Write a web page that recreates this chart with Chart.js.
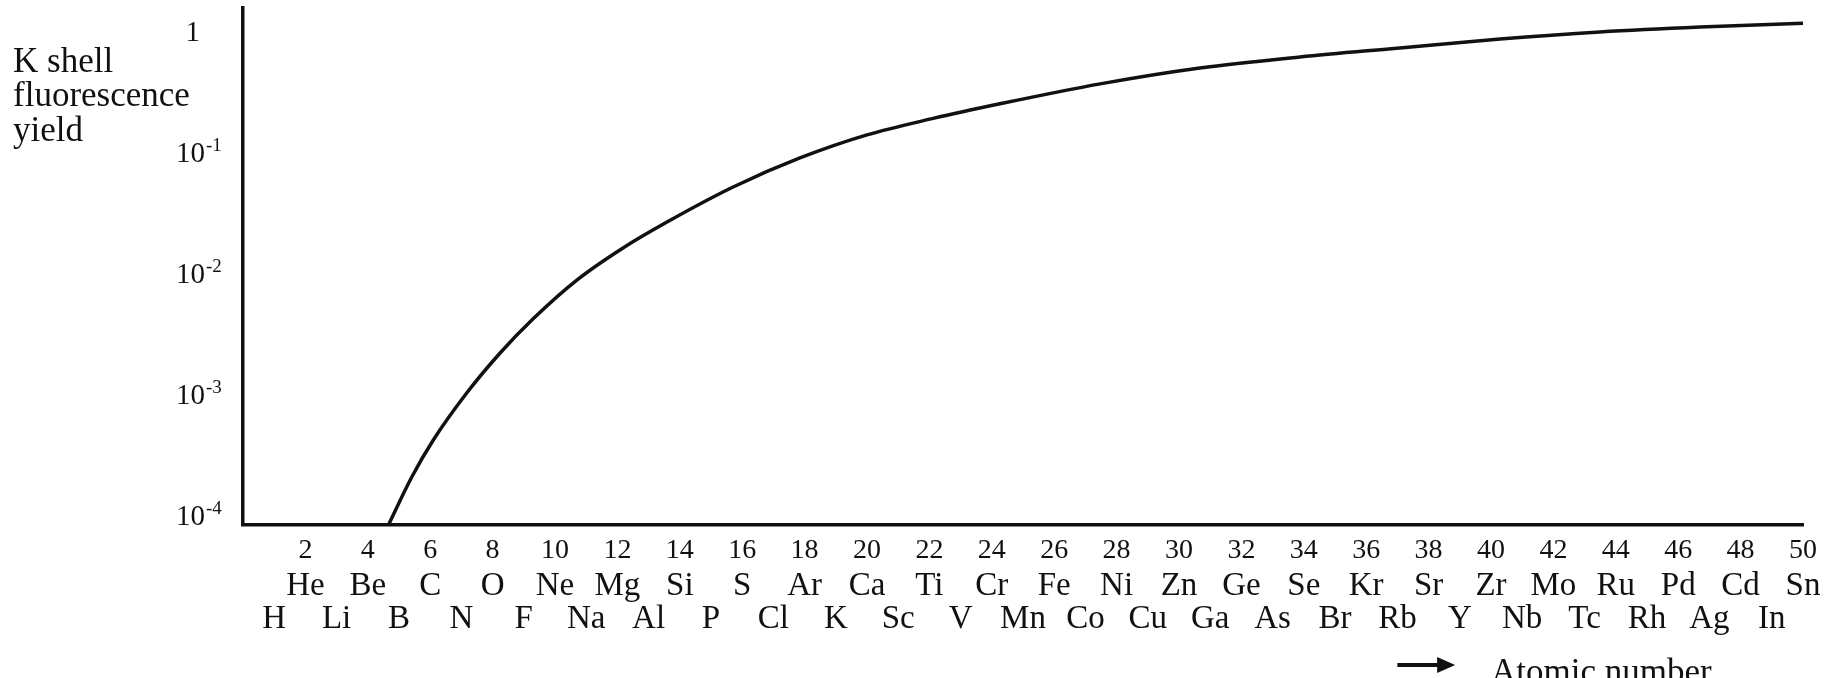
<!DOCTYPE html>
<html>
<head>
<meta charset="utf-8">
<title>K shell fluorescence yield</title>
<script src="https://cdn.jsdelivr.net/npm/chart.js@4.4.1/dist/chart.umd.min.js"></script>
<style>
    html, body { margin: 0; padding: 0; background: #ffffff; }
    #wrap { width: 1838px; height: 678px; }
</style>
</head>
<body>
<div id="wrap"><canvas id="yieldChart" width="1838" height="678"></canvas></div>
<script>
// Curve (atomic number -> K shell fluorescence yield)
const curveZ = [4.66, 5.41, 6.1, 7.17, 8.24, 9.3, 10.7, 12.18, 13.59, 15.71, 17.85, 20.0, 22.12, 24.26, 27.47, 30.67, 33.88, 37.08, 40.29, 43.49, 46.7, 50.0];
const curveYield = [8.67e-5, 2.16e-4, 4.36e-4, 1.065e-3, 2.28e-3, 4.37e-3, 9.12e-3, 0.0168, 0.0275, 0.0535, 0.0929, 0.144, 0.197, 0.26, 0.38, 0.514, 0.634, 0.752, 0.892, 1.02, 1.12, 1.2];

// Axis labels
const numberTicks = [2, 4, 6, 8, 10, 12, 14, 16, 18, 20, 22, 24, 26, 28, 30, 32, 34, 36, 38, 40, 42, 44, 46, 48, 50];
const evenSymbols = ['He', 'Be', 'C', 'O', 'Ne', 'Mg', 'Si', 'S', 'Ar', 'Ca', 'Ti', 'Cr', 'Fe', 'Ni', 'Zn', 'Ge', 'Se', 'Kr', 'Sr', 'Zr', 'Mo', 'Ru', 'Pd', 'Cd', 'Sn'];
const oddTicks = [1, 3, 5, 7, 9, 11, 13, 15, 17, 19, 21, 23, 25, 27, 29, 31, 33, 35, 37, 39, 41, 43, 45, 47, 49];
const oddSymbols = ['H', 'Li', 'B', 'N', 'F', 'Na', 'Al', 'P', 'Cl', 'K', 'Sc', 'V', 'Mn', 'Co', 'Cu', 'Ga', 'As', 'Br', 'Rb', 'Y', 'Nb', 'Tc', 'Rh', 'Ag', 'In'];
const yTickValues = [1e-4, 1e-3, 1e-2, 1e-1, 1];
const yTickExponents = ['-4', '-3', '-2', '-1', ''];
const yTitleLines = ['K shell', 'fluorescence', 'yield'];
const xTitle = 'Atomic number';

const INK = '#111111';
const SERIF = '"Liberation Serif", "DejaVu Serif", serif';

Chart.defaults.font.family = SERIF;
Chart.defaults.color = INK;

// fixed tick list for a scale
function fixedTicks(values) {
    return function(scale) {
        scale.ticks = values.map(v => ({ value: v }));
    };
}

function bottomAxis(values, labels, size, padding, height, weight, withBorder) {
    return {
        type: 'linear',
        position: 'bottom',
        min: 0,
        max: 50,
        weight: weight,
        grid: { display: false, drawTicks: false },
        border: { display: withBorder, color: INK, width: 3.5 },
        afterBuildTicks: fixedTicks(values),
        afterFit(scale) {
            scale.height = height;
            scale.paddingLeft = 0;
            scale.paddingRight = 0;
        },
        ticks: {
            autoSkip: false,
            maxRotation: 0,
            minRotation: 0,
            padding: padding,
            color: INK,
            font: { family: SERIF, size: size, lineHeight: 1 },
            callback: (value, index) => labels[index]
        }
    };
}

// Draws the y tick labels with superscripts, the y title and the arrow caption
const figureText = {
    id: 'figureText',
    afterDraw(chart) {
        const { ctx, scales } = chart;
        const y = scales.y;
        const x = scales.x;
        ctx.save();
        ctx.fillStyle = INK;
        ctx.strokeStyle = INK;

        ctx.textBaseline = 'middle';
        yTickValues.forEach((v, i) => {
            const py = y.getPixelForValue(v);
            const exp = yTickExponents[i];
            ctx.font = '29px ' + SERIF;
            ctx.textAlign = 'right';
            if (exp) {
                ctx.fillText('10', y.right - 38, py);
                ctx.font = '19px ' + SERIF;
                ctx.textAlign = 'left';
                ctx.fillText(exp, y.right - 37, py - 8);
            } else {
                ctx.fillText('1', y.right - 43, py);
            }
        });

        ctx.textBaseline = 'alphabetic';
        ctx.textAlign = 'left';
        ctx.font = '35px ' + SERIF;
        const baselines = [72, 106, 141];
        yTitleLines.forEach((line, i) => ctx.fillText(line, 13, baselines[i]));

        // arrow + "Atomic number"
        const ay = chart.height - 13;
        const a0 = x.getPixelForValue(37);
        const a1 = x.getPixelForValue(38.85);
        ctx.lineWidth = 4;
        ctx.beginPath();
        ctx.moveTo(a0, ay);
        ctx.lineTo(a1 - 14, ay);
        ctx.stroke();
        ctx.beginPath();
        ctx.moveTo(a1 - 18, ay - 8);
        ctx.lineTo(a1, ay);
        ctx.lineTo(a1 - 18, ay + 8);
        ctx.closePath();
        ctx.fill();
        ctx.font = '35px ' + SERIF;
        ctx.fillText(xTitle, x.getPixelForValue(40), chart.height + 5);
        ctx.restore();
    }
};

const ctx = document.getElementById('yieldChart');

new Chart(ctx, {
    type: 'line',
    data: {
        datasets: [{
            label: 'K shell fluorescence yield',
            data: curveZ.map((z, i) => ({ x: z, y: curveYield[i] })),
            borderColor: INK,
            borderWidth: 3.5,
            pointRadius: 0,
            fill: false,
            cubicInterpolationMode: 'monotone',
            xAxisID: 'x',
            yAxisID: 'y'
        }]
    },
    options: {
        responsive: false,
        animation: false,
        devicePixelRatio: 1,
        layout: { padding: { top: 8, right: 35, bottom: 42.5, left: 0 } },
        plugins: {
            legend: { display: false },
            tooltip: { enabled: false },
            title: { display: false }
        },
        scales: {
            x: bottomAxis(numberTicks, numberTicks.map(String), 28, 12, 40, 0, true),
            xEven: bottomAxis(numberTicks, evenSymbols, 33, 4.5, 37.5, 1, false),
            xOdd: bottomAxis(oddTicks, oddSymbols, 33, 0, 33, 2, false),
            y: {
                type: 'logarithmic',
                position: 'left',
                min: 8.67e-5,
                max: 1.607,
                grid: { display: false, drawTicks: false },
                border: { display: true, color: INK, width: 3.5 },
                ticks: { display: false },
                afterBuildTicks: fixedTicks(yTickValues),
                afterFit(scale) {
                    scale.width = 243;
                    scale.paddingTop = 0;
                    scale.paddingBottom = 0;
                }
            }
        }
    },
    plugins: [figureText]
});
</script>
</body>
</html>
